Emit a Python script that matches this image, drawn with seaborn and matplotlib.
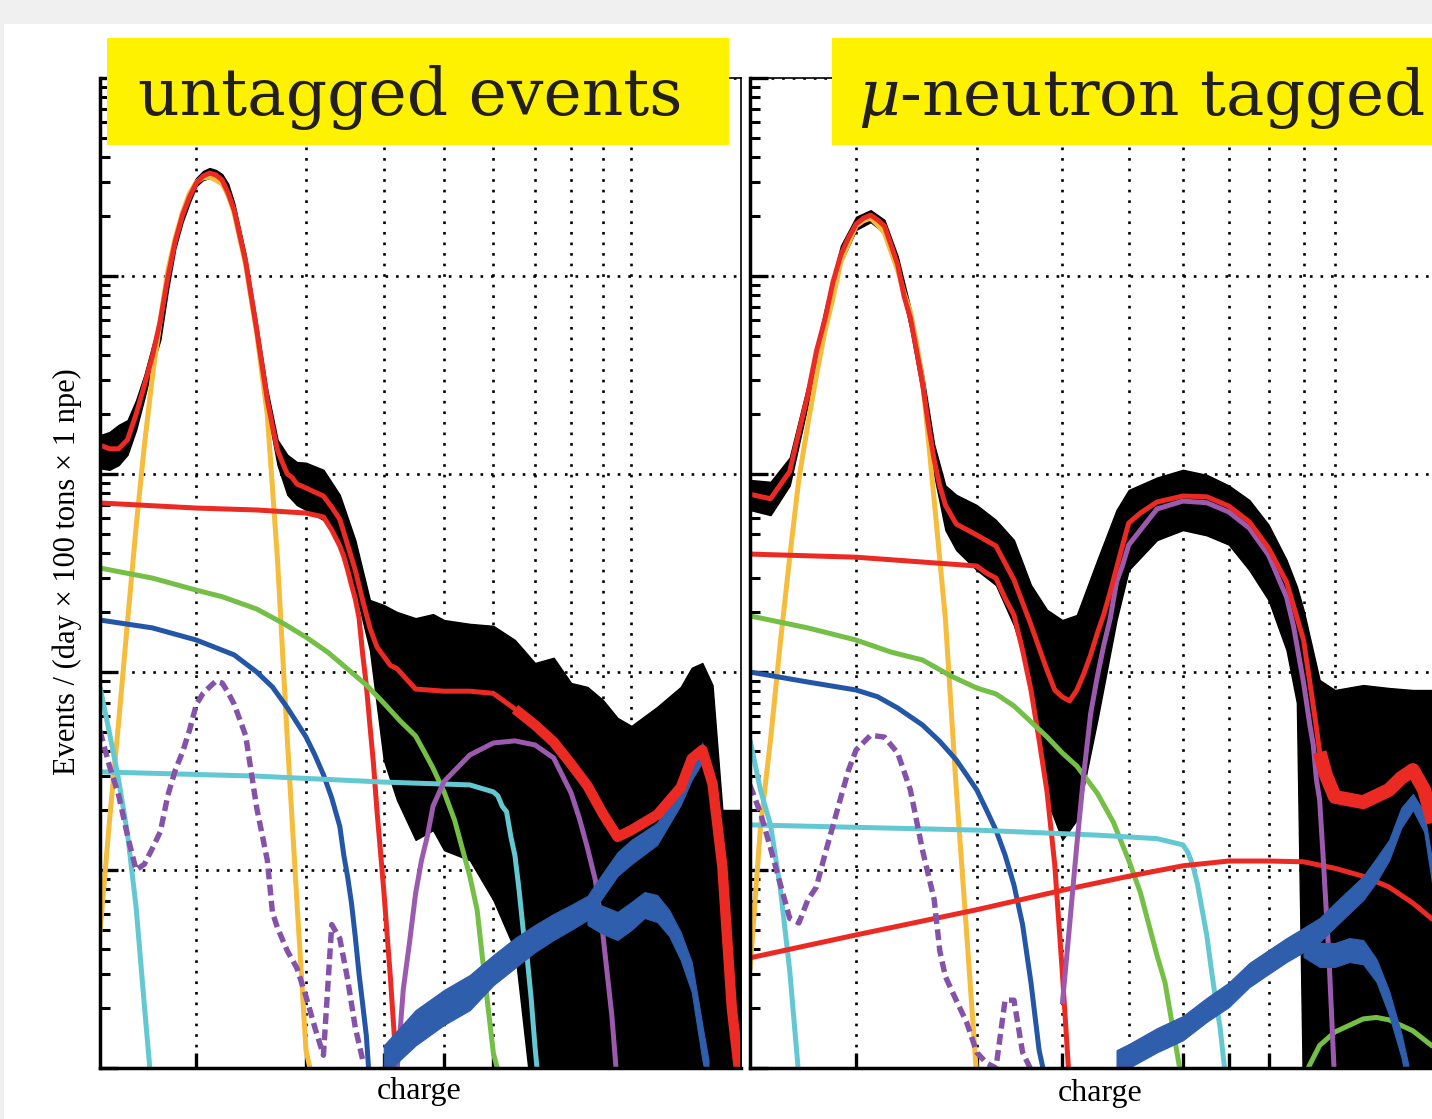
import pandas as pd
import matplotlib
matplotlib.use("Agg")
import matplotlib.pyplot as plt
from matplotlib.patches import Rectangle
from matplotlib.ticker import FixedLocator, NullLocator, LogLocator, NullFormatter
import seaborn as sns

# ---- shared axis settings ------------------------------------------------
GRID_X = [200, 300, 400, 500, 600, 700, 800, 900, 1000]
X_RANGE = (140, 1500)
Y_RANGE = (1e-3, 1e2)

# ---- left panel: untagged events ----------------------------------------
L_data_x = [140, 145, 150, 155, 160, 165, 170, 175, 180, 185, 190, 195, 200, 205, 210, 215, 220, 225, 230, 240,
            250, 260, 270, 280, 290, 300, 320, 340, 360, 380, 400, 420, 450, 480, 500, 550, 600, 650, 700, 750,
            800, 850, 900, 950, 1000, 1100, 1200, 1250, 1300, 1350, 1400, 1500]
L_data_hi = [1.57, 1.63, 1.77, 1.87, 2.36, 3.16, 4.48, 6.0, 10.5, 16.7, 22.0, 27.2, 31.3, 33.9, 35.1, 34.3, 32.7, 29.2, 23.4, 12.8,
             5.86, 2.66, 1.49, 1.25, 1.15, 1.14, 1.05, 0.784, 0.464, 0.231, 0.218, 0.201, 0.187, 0.196, 0.183, 0.175, 0.171, 0.145, 0.111, 0.118,
             0.088, 0.084, 0.0722, 0.0586, 0.0534, 0.0666, 0.084, 0.105, 0.111, 0.0859, 0.0201, 0.0201]
L_data_lo = [1.07, 1.05, 1.11, 1.25, 1.67, 2.42, 3.55, 4.75, 8.5, 13.8, 18.7, 23.4, 28.5, 30.5, 31.3, 30.5, 29.2, 24.2, 19.9, 10.7,
             4.75, 2.10, 1.11, 0.785, 0.697, 0.658, 0.586, 0.464, 0.259, 0.129, 0.036, 0.0226, 0.0142, 0.0159, 0.0126, 0.0112, 0.00705, 0.00394, 0.0005, 0.0005,
             0.0005, 0.0005, 0.0005, 0.0005, 0.0005, 0.0005, 0.0005, 0.0005, 0.0005, 0.0005, 0.0005, 0.0005]

L_fit_x = [140, 145, 150, 155, 160, 165, 170, 175, 180, 185, 190, 195, 200, 205, 210, 215, 220, 225, 230, 240,
           250, 260, 265, 270, 275, 280, 285, 290, 300, 310, 320, 330, 340, 350, 360, 370, 380, 390, 400, 410,
           420, 450, 500, 550, 600, 650, 700, 750, 800, 850, 900, 950, 1000, 1100, 1200, 1250, 1300, 1350, 1400, 1450, 1500]
L_fit_y = [1.40, 1.34, 1.34, 1.49, 2.0, 2.81, 3.96, 5.94, 9.9, 15.0, 20.3, 25.1, 29.5, 32.0, 33.1, 32.4, 30.5, 26.2, 21.5, 11.8,
           5.34, 2.36, 1.74, 1.32, 1.14, 1.00, 0.96, 0.89, 0.85, 0.81, 0.774, 0.68, 0.59, 0.438, 0.327, 0.23, 0.167, 0.134, 0.12, 0.108,
           0.104, 0.082, 0.080, 0.080, 0.078, 0.065, 0.054, 0.0443, 0.0343, 0.0266, 0.0192, 0.0147, 0.0159, 0.019, 0.0261, 0.0365, 0.0404, 0.0272, 0.0104, 0.0020, 0.0008]

L_peak_x = [140, 145, 150, 155, 160, 165, 170, 175, 180, 185, 190, 195, 200, 205, 210, 215, 220, 225, 230, 240,
            250, 260, 270, 280, 290, 300, 310]
L_peak_y = [0.00486, 0.0177, 0.0559, 0.179, 0.54, 1.40, 3.13, 6.0, 10.7, 15.6, 21.0, 26.2, 29.8, 31.3, 31.6, 30.5, 29.2, 25.6, 20.8, 11.4,
            5.15, 1.99, 0.368, 0.0454, 0.00705, 0.00123, 0.00077]

L_shoulder_x = [140, 200, 250, 300, 320, 330, 340, 345, 350, 355, 360, 365, 370, 375, 380, 385, 390, 400, 410, 420]
L_shoulder_y = [0.714, 0.673, 0.658, 0.635, 0.607, 0.521, 0.433, 0.383, 0.327, 0.275, 0.234, 0.188, 0.123, 0.086, 0.054, 0.0347, 0.0201, 0.00793, 0.00285, 0.00092]

L_green_x = [140, 170, 200, 220, 250, 275, 300, 325, 350, 375, 400, 425, 450, 465, 480, 500, 520, 550, 565, 580, 600, 620]
L_green_y = [0.335, 0.298, 0.259, 0.24, 0.208, 0.177, 0.150, 0.126, 0.1035, 0.086, 0.0697, 0.0566, 0.0475, 0.0394, 0.0327, 0.0248, 0.0178, 0.0093, 0.0063, 0.0030, 0.00119, 0.0008]

L_blue_x = [140, 170, 200, 230, 250, 265, 280, 300, 310, 320, 330, 340, 345, 350, 355, 360, 365, 370, 375, 380]
L_blue_y = [0.183, 0.167, 0.145, 0.122, 0.10, 0.084, 0.066, 0.047, 0.0381, 0.0303, 0.0231, 0.0166, 0.0119, 0.0092, 0.0068, 0.0046, 0.0030, 0.0021, 0.00146, 0.0008]

L_cyan1_x = [140, 145, 150, 155, 160, 165, 170]
L_cyan1_y = [0.084, 0.0492, 0.0285, 0.0152, 0.0065, 0.00206, 0.0007]

L_cyan2_x = [140, 250, 400, 550, 600, 610, 620, 630, 640, 650, 660, 670, 680, 690, 700, 710]
L_cyan2_y = [0.0313, 0.0298, 0.0278, 0.0269, 0.0248, 0.0237, 0.021, 0.0197, 0.0148, 0.0118, 0.0079, 0.005, 0.0036, 0.00226, 0.00128, 0.0008]

L_arch_x = [420, 430, 440, 450, 460, 470, 480, 500, 550, 600, 650, 700, 750, 800, 825, 850, 875, 900, 930, 950]
L_arch_y = [0.00095, 0.0025, 0.0043, 0.0076, 0.0112, 0.0148, 0.021, 0.028, 0.0381, 0.0438, 0.0449, 0.0428, 0.0368, 0.0245, 0.0182, 0.0129, 0.0089, 0.0047, 0.00185, 0.0008]

L_dash_x = [140, 145, 150, 155, 160, 165, 170, 175, 180, 185, 190, 195, 200, 205, 210, 215, 220, 225, 230, 240,
            250, 260, 265, 270, 280, 290, 300, 310, 320, 330, 340, 350, 360, 370]
L_dash_y = [0.0504, 0.0335, 0.0239, 0.0149, 0.0100, 0.0107, 0.0129, 0.0156, 0.0239, 0.032, 0.0394, 0.0509, 0.0687, 0.078, 0.084, 0.09, 0.088, 0.0785, 0.0687, 0.0477,
            0.0206, 0.0112, 0.0061, 0.0051, 0.0039, 0.0032, 0.0023, 0.0016, 0.00116, 0.0053, 0.0045, 0.0028, 0.0016, 0.0011]

L_bg1_x = [400, 450, 500, 550, 600, 650, 700, 750, 800, 850, 900, 950, 1000, 1100, 1200, 1250, 1300, 1350, 1400, 1450, 1480]
L_bg1_hi = [0.0013, 0.00196, 0.00248, 0.00295, 0.00372, 0.00453, 0.00528, 0.0060, 0.00666, 0.0074, 0.00966, 0.0123, 0.0142, 0.0173, 0.0269, 0.036, 0.0438, 0.0313, 0.0098, 0.00262, 0.00116]
L_bg1_lo = [0.00092, 0.0013, 0.00165, 0.00196, 0.00262, 0.0032, 0.00385, 0.00443, 0.00498, 0.00559, 0.00731, 0.00933, 0.0107, 0.0134, 0.0213, 0.0285, 0.0351, 0.0245, 0.0075, 0.00175, 0.00077]

L_bg2_x = [850, 900, 950, 1000, 1050, 1100, 1150, 1200, 1250, 1300, 1330]
L_bg2_hi = [0.00705, 0.00658, 0.00614, 0.00689, 0.00774, 0.00747, 0.00628, 0.00486, 0.00343, 0.00165, 0.0011]
L_bg2_lo = [0.00528, 0.00475, 0.00443, 0.00498, 0.00572, 0.00546, 0.00464, 0.00351, 0.00242, 0.0011, 0.00077]

# ---- right panel: mu-neutron tagged -------------------------------------
R_data_x = [140, 150, 160, 170, 180, 190, 200, 210, 220, 230, 240, 250, 260, 270, 280, 300, 320, 340, 360, 380,
            400, 420, 450, 480, 500, 550, 600, 650, 700, 750, 800, 850, 880, 900, 950, 1000, 1100, 1200, 1300, 1400, 1500]
R_data_hi = [0.933, 0.913, 1.21, 2.82, 6.73, 14.2, 19.9, 21.5, 19.2, 12.6, 6.9, 3.3, 1.41, 0.875, 0.785, 0.697, 0.586, 0.464, 0.275, 0.206,
             0.183, 0.194, 0.368, 0.658, 0.83, 0.96, 1.05, 0.99, 0.875, 0.739, 0.555, 0.368, 0.27, 0.206, 0.0911, 0.0811, 0.0859, 0.083, 0.0811, 0.0811, 0.0811]
R_data_lo = [0.658, 0.62, 0.875, 2.24, 5.33, 11.6, 17.1, 18.7, 16.5, 10.5, 5.45, 2.5, 0.99, 0.521, 0.413, 0.327, 0.275, 0.172, 0.0911, 0.0226,
             0.0142, 0.0179, 0.0572, 0.183, 0.327, 0.464, 0.521, 0.49, 0.44, 0.327, 0.231, 0.129, 0.07, 0.0005, 0.0005, 0.0005, 0.0005, 0.0005, 0.0005, 0.0005, 0.0005]

R_fit_x = [140, 150, 160, 165, 170, 175, 180, 185, 190, 195, 200, 205, 210, 215, 220, 225, 230, 235, 240, 245,
           250, 255, 260, 265, 270, 280, 300, 320, 340, 360, 380, 390, 400, 410, 420, 430, 440, 450, 460, 470,
           480, 490, 500, 520, 550, 600, 650, 700, 750, 800, 850, 870, 900, 920, 940, 950, 970, 1000, 1100, 1200,
           1250, 1300, 1350, 1400, 1500]
R_fit_y = [0.79, 0.75, 1.03, 1.63, 2.51, 4.16, 6.0, 9.3, 12.8, 15.6, 18.3, 19.6, 20.3, 19.2, 17.9, 14.3, 11.4, 7.9, 6.14, 4.23,
           2.88, 1.78, 1.18, 0.87, 0.697, 0.559, 0.492, 0.433, 0.292, 0.173, 0.102, 0.0811, 0.0748, 0.0714, 0.081, 0.098, 0.122, 0.157, 0.196, 0.254,
           0.335, 0.438, 0.565, 0.635, 0.722, 0.774, 0.767, 0.689, 0.573, 0.423, 0.285, 0.217, 0.145, 0.087, 0.0521, 0.0394, 0.0302, 0.0234, 0.022, 0.0254,
           0.0292, 0.032, 0.0254, 0.0159, 0.00705]

R_peak_x = [140, 145, 150, 155, 160, 165, 170, 175, 180, 185, 190, 195, 200, 205, 210, 215, 220, 225, 230, 235,
            240, 245, 250, 255, 260, 265, 270, 280, 290, 300]
R_peak_y = [0.00313, 0.0164, 0.0454, 0.14, 0.38, 0.944, 1.77, 3.14, 5.21, 7.7, 11.8, 14.6, 17.9, 19.0, 19.6, 18.1, 16.5, 13.2, 10.7, 8.2,
            6.58, 4.6, 2.98, 1.49, 0.739, 0.368, 0.186, 0.026, 0.0048, 0.0009]

R_shoulder_x = [140, 200, 300, 310, 320, 330, 340, 350, 360, 370, 380, 390, 400, 410]
R_shoulder_y = [0.394, 0.38, 0.343, 0.316, 0.298, 0.236, 0.194, 0.129, 0.0811, 0.0454, 0.0248, 0.0106, 0.00305, 0.0008]

R_green_x = [140, 170, 200, 225, 250, 275, 300, 320, 340, 360, 380, 400, 420, 450, 475, 500, 520, 550, 565, 580, 600]
R_green_y = [0.192, 0.167, 0.145, 0.126, 0.115, 0.0955, 0.083, 0.0775, 0.0674, 0.056, 0.047, 0.039, 0.0335, 0.0244, 0.0174, 0.0112, 0.0077, 0.0037, 0.0027, 0.00159, 0.0008]

R_green2_x = [900, 950, 1000, 1100, 1150, 1200, 1300, 1400, 1500]
R_green2_y = [0.0009, 0.0013, 0.00152, 0.00177, 0.0018, 0.00175, 0.00154, 0.00126, 0.00104]

R_blue_x = [140, 170, 200, 215, 230, 250, 265, 280, 290, 300, 310, 320, 330, 340, 350, 360, 370, 380]
R_blue_y = [0.1, 0.089, 0.0811, 0.075, 0.0658, 0.054, 0.0446, 0.036, 0.0302, 0.0254, 0.0201, 0.0159, 0.0119, 0.0084, 0.0053, 0.0027, 0.00123, 0.0008]

R_cyan1_x = [140, 145, 150, 155, 160, 165]
R_cyan1_y = [0.0454, 0.0254, 0.0169, 0.0081, 0.0031, 0.0009]

R_cyan2_x = [140, 300, 450, 550, 600, 610, 620, 630, 640, 650, 660, 670, 680, 690, 700]
R_cyan2_y = [0.0169, 0.0159, 0.015, 0.0144, 0.0134, 0.0123, 0.0106, 0.0085, 0.0063, 0.0047, 0.00316, 0.0022, 0.00159, 0.001, 0.00087]

R_arch_x = [400, 410, 420, 430, 440, 450, 460, 470, 480, 490, 500, 550, 600, 650, 700, 750, 800, 850, 870, 900,
            920, 930, 940, 950, 960, 980, 1000]
R_arch_y = [0.0021, 0.0053, 0.0134, 0.0306, 0.0616, 0.095, 0.137, 0.187, 0.285, 0.347, 0.438, 0.666, 0.73, 0.716, 0.643, 0.533, 0.39, 0.239, 0.171, 0.0885,
            0.0531, 0.0428, 0.0285, 0.0226, 0.0126, 0.0037, 0.0008]

R_broad_x = [140, 200, 300, 400, 500, 600, 700, 800, 900, 1000, 1100, 1200, 1300, 1400, 1500]
R_broad_y = [0.0036, 0.0047, 0.0063, 0.0079, 0.0093, 0.0105, 0.0111, 0.0111, 0.011, 0.0102, 0.0093, 0.0082, 0.0068, 0.0055, 0.0042]

R_dash_x = [140, 145, 150, 155, 160, 165, 170, 175, 180, 185, 190, 195, 200, 210, 220, 230, 240, 250, 260, 265,
            270, 280, 290, 300, 310, 320, 330, 340, 350, 360]
R_dash_y = [0.0268, 0.0194, 0.0129, 0.0085, 0.0057, 0.0054, 0.00705, 0.0082, 0.0119, 0.0167, 0.0233, 0.032, 0.0404, 0.0479, 0.0469, 0.039, 0.0254, 0.0126, 0.0071, 0.0039,
            0.0029, 0.0022, 0.0017, 0.0012, 0.00106, 0.0010, 0.0022, 0.0022, 0.0012, 0.00098]

R_bg1_x = [480, 500, 550, 600, 650, 700, 750, 800, 850, 900, 950, 1000, 1100, 1150, 1200, 1250, 1300, 1350, 1400, 1500]
R_bg1_hi = [0.00123, 0.00132, 0.00159, 0.00183, 0.00226, 0.0027, 0.00339, 0.00394, 0.00453, 0.0051, 0.00572, 0.00681, 0.0093, 0.0115, 0.0142, 0.0206, 0.0242, 0.0196, 0.0091, 0.00254]
R_bg1_lo = [0.00092, 0.001, 0.0012, 0.00138, 0.00171, 0.00203, 0.00256, 0.00298, 0.00343, 0.00385, 0.00433, 0.00515, 0.00705, 0.00869, 0.0112, 0.0163, 0.0201, 0.0156, 0.00689, 0.00192]

R_bg2_x = [900, 950, 1000, 1050, 1100, 1150, 1200, 1250, 1280]
R_bg2_hi = [0.0048, 0.00428, 0.00428, 0.00453, 0.00443, 0.00355, 0.00245, 0.0015, 0.00104]
R_bg2_lo = [0.00364, 0.00324, 0.00324, 0.00343, 0.00334, 0.00272, 0.00185, 0.00114, 0.00077]

# colours
RED = "#EC2A24"
YELLOW = "#F6BC3B"
GREEN = "#74BF45"
BLUE = "#2356A6"
BLUE_BAND = "#2E5EAC"
CYAN = "#63C8D2"
PURPLE = "#9C5AAE"
PURPLE_DASH = "#8552A9"
INK = "#231F20"
BOX = "#FFF200"

W, H = 1432, 1119
LW = 3.6


def curve(ax, x, y, color, width=LW, z=3, **kw):
    sns.lineplot(x=x, y=y, ax=ax, color=color, linewidth=width, estimator=None, sort=False,
                 legend=False, zorder=z, solid_capstyle="butt", solid_joinstyle="round", **kw)


def band(ax, x, lo, hi, color, z=3):
    ax.fill_between(x, lo, hi, color=color, linewidth=0.8, edgecolor=color, zorder=z)


def style_axes(ax):
    ax.set_xscale("log")
    ax.set_yscale("log")
    ax.set_xlim(*X_RANGE)
    ax.set_ylim(*Y_RANGE)
    ax.xaxis.set_major_locator(FixedLocator(GRID_X))
    ax.xaxis.set_minor_locator(NullLocator())
    ax.xaxis.set_major_formatter(NullFormatter())
    ax.yaxis.set_major_locator(LogLocator(base=10, numticks=10))
    ax.yaxis.set_minor_locator(LogLocator(base=10, subs=range(2, 10), numticks=20))
    ax.yaxis.set_major_formatter(NullFormatter())
    ax.yaxis.set_minor_formatter(NullFormatter())
    ax.tick_params(axis="x", which="major", direction="in", length=11, width=2.4,
                   bottom=True, top=False, labelbottom=False, color="black")
    ax.tick_params(axis="y", which="major", direction="in", length=13, width=2.4,
                   left=True, right=False, labelleft=False, color="black")
    ax.tick_params(axis="y", which="minor", direction="in", length=7, width=2.2,
                   left=True, right=False, color="black")
    ax.set_axisbelow(True)
    ax.grid(True, which="major", color="black", linestyle=(0, (1.0, 3.0)), linewidth=1.9)
    ax.grid(False, which="minor")
    for side in ("left", "bottom"):
        ax.spines[side].set_linewidth(2.5)
    for side in ("top", "right"):
        ax.spines[side].set_linewidth(1.2)
    for sp in ax.spines.values():
        sp.set_color("black")
        sp.set_zorder(6)
    ax.set_xlabel("")
    ax.set_ylabel("")
    ax.set_facecolor("white")


sns.set_theme(style="white")
plt.rcParams["font.family"] = ["DejaVu Serif"]
plt.rcParams["mathtext.fontset"] = "dejavuserif"

fig = plt.figure(figsize=(W / 100, H / 100), dpi=100, facecolor="#F0F0F0")
fig.add_artist(Rectangle((4 / W, 0), (W - 4) / W, (H - 24) / H, transform=fig.transFigure,
                         facecolor="white", edgecolor="none", zorder=-10))

ax_l = fig.add_axes([100 / W, 51 / H, 641 / W, 990 / H])
ax_r = fig.add_axes([750 / W, 51 / H, 705.5 / W, 990 / H])

# left panel
style_axes(ax_l)
ax_l.fill_between(L_data_x, L_data_lo, L_data_hi, color="black", linewidth=1.0, zorder=1)
curve(ax_l, L_peak_x, L_peak_y, YELLOW)
curve(ax_l, L_shoulder_x, L_shoulder_y, RED)
curve(ax_l, L_green_x, L_green_y, GREEN)
curve(ax_l, L_blue_x, L_blue_y, BLUE)
curve(ax_l, L_cyan1_x, L_cyan1_y, CYAN)
curve(ax_l, L_cyan2_x, L_cyan2_y, CYAN)
curve(ax_l, L_arch_x, L_arch_y, PURPLE)
curve(ax_l, L_dash_x, L_dash_y, PURPLE_DASH, width=3.9, linestyle=(0, (2.0, 1.0)))
band(ax_l, L_bg2_x, L_bg2_lo, L_bg2_hi, BLUE_BAND)
band(ax_l, L_bg1_x, L_bg1_lo, L_bg1_hi, BLUE_BAND)
l_fit = pd.DataFrame({"x": L_fit_x, "y": L_fit_y})
curve(ax_l, l_fit.x, l_fit.y, RED, z=4)
l_noisy = l_fit[l_fit.x >= 650]
curve(ax_l, l_noisy.x, l_noisy.y, RED, width=7.5, z=4)

# right panel
style_axes(ax_r)
ax_r.fill_between(R_data_x, R_data_lo, R_data_hi, color="black", linewidth=1.0, zorder=1)
curve(ax_r, R_peak_x, R_peak_y, YELLOW)
curve(ax_r, R_shoulder_x, R_shoulder_y, RED)
curve(ax_r, R_green_x, R_green_y, GREEN)
curve(ax_r, R_green2_x, R_green2_y, GREEN)
curve(ax_r, R_blue_x, R_blue_y, BLUE)
curve(ax_r, R_cyan1_x, R_cyan1_y, CYAN)
curve(ax_r, R_cyan2_x, R_cyan2_y, CYAN)
curve(ax_r, R_broad_x, R_broad_y, RED)
curve(ax_r, R_arch_x, R_arch_y, PURPLE)
curve(ax_r, R_dash_x, R_dash_y, PURPLE_DASH, width=3.9, linestyle=(0, (2.0, 1.0)))
band(ax_r, R_bg2_x, R_bg2_lo, R_bg2_hi, BLUE_BAND)
band(ax_r, R_bg1_x, R_bg1_lo, R_bg1_hi, BLUE_BAND)
r_fit = pd.DataFrame({"x": R_fit_x, "y": R_fit_y})
curve(ax_r, r_fit.x, r_fit.y, RED, z=4)
r_noisy = r_fit[r_fit.x >= 950]
curve(ax_r, r_noisy.x, r_noisy.y, RED, width=10, z=4)

# title boxes
fig.add_artist(Rectangle((107 / W, 1 - 145 / H), 622 / W, 107 / H, transform=fig.transFigure,
                         facecolor=BOX, edgecolor="none", zorder=10))
fig.add_artist(Rectangle((832 / W, 1 - 145 / H), 640 / W, 107 / H, transform=fig.transFigure,
                         facecolor=BOX, edgecolor="none", zorder=10))
fig.text(138 / W, 1 - 115 / H, "untagged events", fontsize=46.5, color=INK,
         family="DejaVu Serif", ha="left", va="baseline", zorder=11)
fig.text(858 / W, 1 - 115 / H, r"$\mu$-neutron tagged", fontsize=46.3, color=INK,
         family="DejaVu Serif", ha="left", va="baseline", zorder=11)

# axis labels
fig.text(67 / W, 1 - 572 / H, "Events / (day × 100 tons × 1 npe)", rotation=90,
         fontsize=22, family=["Liberation Serif", "DejaVu Serif"], color="black",
         ha="center", va="center")
fig.text(419 / W, 1 - 1092 / H, "charge", fontsize=23, family=["Liberation Serif", "DejaVu Serif"],
         color="black", ha="center", va="center")
fig.text(1100 / W, 1 - 1094 / H, "charge", fontsize=23, family=["Liberation Serif", "DejaVu Serif"],
         color="black", ha="center", va="center")

fig.savefig("out.png", dpi=100, facecolor=fig.get_facecolor())
